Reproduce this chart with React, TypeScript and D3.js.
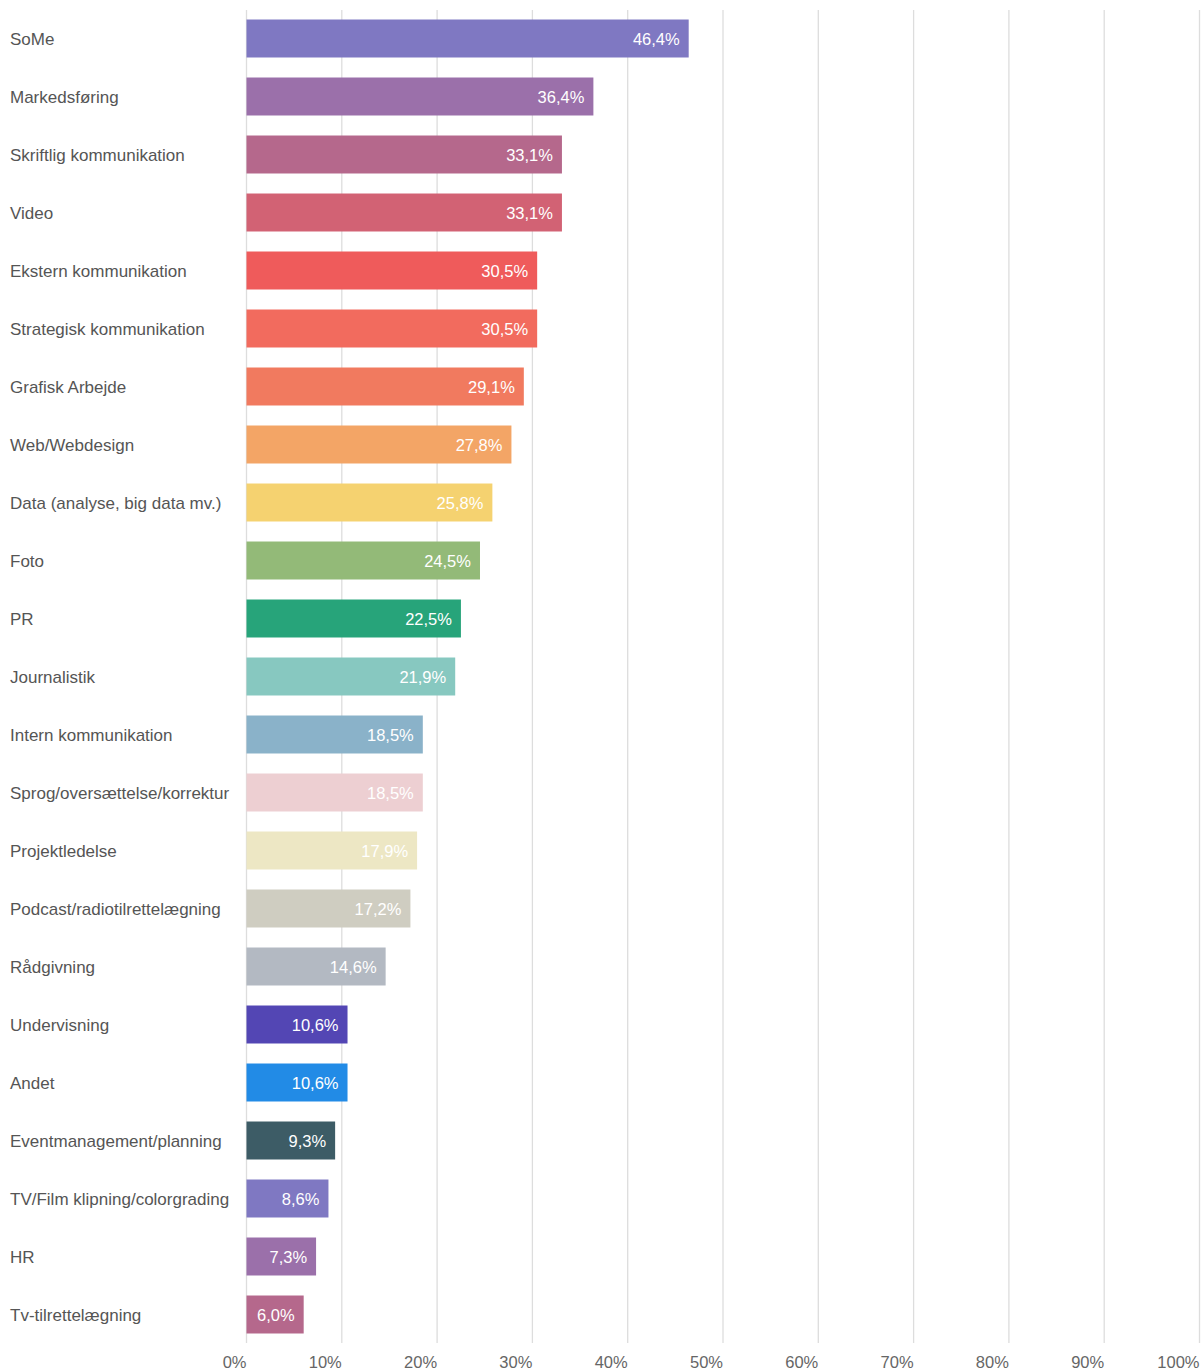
import React from "react";
import * as d3 from "d3";

const categories = [
  "SoMe",
  "Markedsføring",
  "Skriftlig kommunikation",
  "Video",
  "Ekstern kommunikation",
  "Strategisk kommunikation",
  "Grafisk Arbejde",
  "Web/Webdesign",
  "Data (analyse, big data mv.)",
  "Foto",
  "PR",
  "Journalistik",
  "Intern kommunikation",
  "Sprog/oversættelse/korrektur",
  "Projektledelse",
  "Podcast/radiotilrettelægning",
  "Rådgivning",
  "Undervisning",
  "Andet",
  "Eventmanagement/planning",
  "TV/Film klipning/colorgrading",
  "HR",
  "Tv-tilrettelægning",
];

const values = [
  46.4, 36.4, 33.1, 33.1, 30.5, 30.5, 29.1, 27.8, 25.8, 24.5, 22.5, 21.9, 18.5,
  18.5, 17.9, 17.2, 14.6, 10.6, 10.6, 9.3, 8.6, 7.3, 6.0,
];

const colors = [
  "#7f78c2",
  "#9b70aa",
  "#b5688c",
  "#d26274",
  "#ef5b5b",
  "#f26b5e",
  "#f17a5f",
  "#f3a566",
  "#f5d270",
  "#93ba78",
  "#27a47a",
  "#87c8c0",
  "#8ab2c9",
  "#edcfd2",
  "#ede7c4",
  "#cfcdc1",
  "#b3b9c2",
  "#5346b4",
  "#228be6",
  "#3d5c66",
  "#7f78c2",
  "#9b70aa",
  "#b5688c",
];

const ticks = [0, 10, 20, 30, 40, 50, 60, 70, 80, 90, 100];

const W = 1202;
const H = 1372;

export default function App() {
  const x = d3.scaleLinear().domain([0, 100]).range([246.5, 1199.5]);
  const y = d3
    .scaleBand<string>()
    .domain(categories)
    .range([9.5, 1343.5])
    .paddingInner(0.345)
    .paddingOuter(0.1725);

  const fmt = (v: number) => v.toFixed(1).replace(".", ",") + "%";
  const font = "'Liberation Sans', Arial, sans-serif";

  return (
    <svg
      width={W}
      height={H}
      style={{ position: "absolute", left: 0, top: 0, background: "#fff" }}
      fontFamily={font}
    >
      {ticks.map((t) => (
        <line
          key={"g" + t}
          x1={x(t)}
          x2={x(t)}
          y1={10}
          y2={1343}
          stroke="#dddddd"
          strokeWidth={1.3}
        />
      ))}
      {categories.map((c, i) => {
        const yy = y(c)!;
        const bw = y.bandwidth();
        return (
          <g key={c}>
            <text
              x={10}
              y={yy + bw / 2 + 0.5}
              dy="0.36em"
              fontSize={17}
              fill="#555"
            >
              {c}
            </text>
            <rect
              x={x(0)}
              y={yy}
              width={x(values[i]) - x(0)}
              height={bw}
              fill={colors[i]}
            />
            <text
              x={x(values[i]) - 9}
              y={yy + bw / 2 + 0.5}
              dy="0.36em"
              fontSize={16.5}
              fill="#fff"
              textAnchor="end"
            >
              {fmt(values[i])}
            </text>
          </g>
        );
      })}
      {ticks.map((t) => (
        <text
          key={"t" + t}
          x={x(t)}
          y={1368}
          fontSize={16.5}
          fill="#666"
          textAnchor="end"
        >
          {t + "%"}
        </text>
      ))}
    </svg>
  );
}
